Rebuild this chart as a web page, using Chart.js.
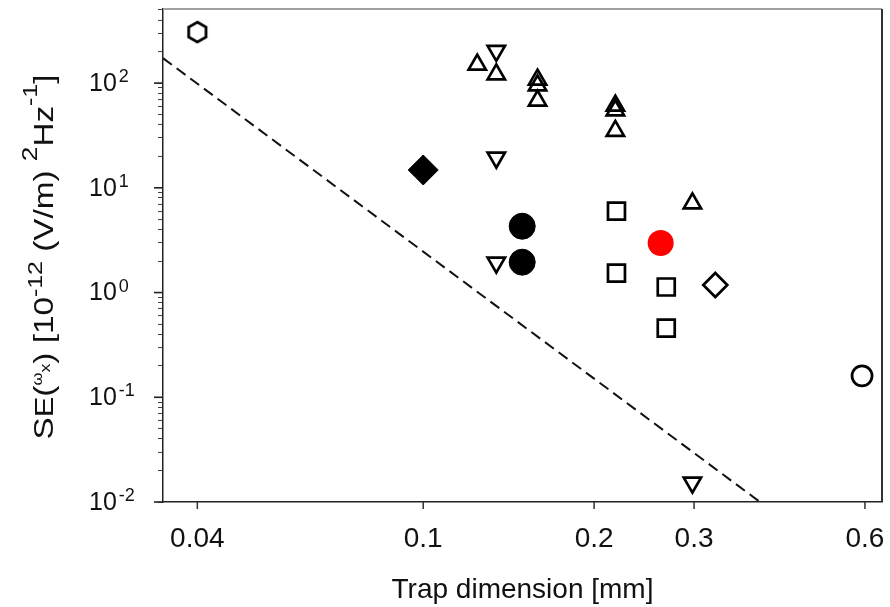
<!DOCTYPE html>
<html>
<head>
<meta charset="utf-8">
<script src="https://cdn.jsdelivr.net/npm/chart.js@4.4.1/dist/chart.umd.min.js"></script>
<style>
  html, body { margin: 0; padding: 0; background: #fff; overflow: hidden; }
  #wrap { width: 890px; height: 607px; position: relative; }
  canvas { display: block; }
</style>
</head>
<body>
<div id="wrap"><canvas id="c"></canvas></div>
<script>
// values (trap dimension in mm, S_E in 1e-12 (V/m)^2/Hz)
const hexX = [0.04];
const hexY = [307];
const upTriX = [0.1245, 0.1345, 0.159, 0.159, 0.159, 0.218, 0.218, 0.218, 0.298];
const upTriY = [150, 121, 108, 95, 68, 61, 55, 35, 7.1];
const downTriX = [0.1345, 0.1345, 0.1345, 0.298];
const downTriY = [203, 19.4, 1.93, 0.0153];
const dotX = [0.1494, 0.1494];
const dotY = [4.3, 1.95];
const redX = [0.262];
const redY = [2.97];
const squareX = [0.219, 0.219, 0.268, 0.268];
const squareY = [6.0, 1.53, 1.13, 0.458];
const openDiamondX = [0.327];
const openDiamondY = [1.18];
const solidDiamondX = [0.1];
const solidDiamondY = [14.8];
const ringX = [0.593];
const ringY = [0.16];
// dashed limit line, end points where it meets the frame
const limitX = [0.0348, 0.392];
const limitY = [173, 0.01];

const xTicks = [0.04, 0.1, 0.2, 0.3, 0.6];
const yExps = [-2, -1, 0, 1, 2];
const yMin = 0.01, yMax = 510;
const xMin = 0.0348, xMax = 0.643;

const FONT = '"Liberation Sans", Arial, sans-serif';

function pts(xs, ys) { return xs.map((x, i) => ({ x: x, y: ys[i] })); }

// hexagon marker (no built-in style for it)
const hex = document.createElement('canvas');
hex.width = 28; hex.height = 28;
(function () {
  const g = hex.getContext('2d');
  g.lineWidth = 2.8;
  g.strokeStyle = '#000';
  g.beginPath();
  for (let k = 0; k < 6; k++) {
    const a = Math.PI / 3 * k;
    const px = 14 + 10 * Math.sin(a), py = 14 - 10 * Math.cos(a);
    if (k === 0) g.moveTo(px, py); else g.lineTo(px, py);
  }
  g.closePath();
  g.stroke();
})();

const openStyle = { backgroundColor: 'rgba(0,0,0,0)', borderColor: '#000', borderWidth: 2.7 };

const frame = {
  id: 'frame',
  afterDraw(chart) {
    const { ctx, chartArea: a } = chart;
    const xs = chart.scales.x, ys = chart.scales.y;
    ctx.save();
    // top and right border
    ctx.strokeStyle = '#a0a0a0';
    ctx.lineWidth = 2;
    ctx.beginPath(); ctx.moveTo(a.left, a.top); ctx.lineTo(a.right, a.top); ctx.stroke();
    ctx.strokeStyle = '#333';
    ctx.beginPath(); ctx.moveTo(a.right, a.top); ctx.lineTo(a.right, a.bottom); ctx.stroke();

    // short x tick marks (the axis' own tick lines are kept invisible to push labels down)
    ctx.strokeStyle = '#333';
    ctx.lineWidth = 1.5;
    xTicks.forEach(v => {
      const px = xs.getPixelForValue(v);
      ctx.beginPath(); ctx.moveTo(px, a.bottom); ctx.lineTo(px, a.bottom + 7); ctx.stroke();
    });

    // major y ticks and labels 10^k
    ctx.fillStyle = '#111';
    ctx.strokeStyle = '#222';
    ctx.lineWidth = 1.6;
    ctx.textBaseline = 'middle';
    yExps.forEach(e => {
      const py = ys.getPixelForValue(Math.pow(10, e));
      ctx.beginPath(); ctx.moveTo(a.left - 9, py); ctx.lineTo(a.left, py); ctx.stroke();
      ctx.font = '25px ' + FONT;
      ctx.textAlign = 'left';
      ctx.fillText('10', 89, py + 1);
      const w = ctx.measureText('10').width;
      ctx.font = '18px ' + FONT;
      ctx.fillText(e < 0 ? '-' + (-e) : String(e), 89 + w + 2, py - 6);
    });

    // y axis title with sub/superscripts, stretched to the length it has in the figure
    const segs = [
      ['S', 28, 0], ['E', 26, 0], ['(', 28, 0], ['\u03c9', 14, -11], ['x', 15, -3], [')', 28, 0],
      [' [10', 28, 0], ['-12', 21, -11], [' (V/m) ', 28, 0], ['2', 22, -16], ['Hz', 28, 0], ['-1', 21, -16], [']', 28, 0]
    ];
    let total = 0;
    segs.forEach(s => { ctx.font = s[1] + 'px ' + FONT; total += ctx.measureText(s[0]).width; });
    const len = 365;
    ctx.translate(53, 257);
    ctx.rotate(-Math.PI / 2);
    ctx.scale(len / total, 1);
    let cx = -total / 2;
    ctx.textAlign = 'left';
    ctx.textBaseline = 'alphabetic';
    segs.forEach(s => {
      ctx.font = s[1] + 'px ' + FONT;
      ctx.fillText(s[0], cx, s[2]);
      cx += ctx.measureText(s[0]).width;
    });
    ctx.restore();
  }
};

new Chart(document.getElementById('c'), {
  type: 'scatter',
  data: {
    datasets: [
      { label: 'limit', type: 'line', data: pts(limitX, limitY), borderColor: '#111', borderWidth: 2,
        borderDash: [11, 6], pointRadius: 0, fill: false, order: 10 },
      { label: 'hexagon', data: pts(hexX, hexY), pointStyle: hex, pointRadius: 11 },
      { label: 'up', data: pts(upTriX, upTriY), pointStyle: 'triangle', pointRadius: 10, ...openStyle },
      { label: 'down', data: pts(downTriX, downTriY), pointStyle: 'triangle', rotation: 180, pointRadius: 10, ...openStyle },
      { label: 'squares', data: pts(squareX, squareY), pointStyle: 'rect', pointRadius: 12, ...openStyle },
      { label: 'open diamond', data: pts(openDiamondX, openDiamondY), pointStyle: 'rectRot', pointRadius: 12, ...openStyle },
      { label: 'ring', data: pts(ringX, ringY), pointStyle: 'circle', pointRadius: 10, ...openStyle },
      { label: 'solid diamond', data: pts(solidDiamondX, solidDiamondY), pointStyle: 'rectRot', pointRadius: 15,
        backgroundColor: '#000', borderColor: '#000', borderWidth: 1 },
      { label: 'dots', data: pts(dotX, dotY), pointStyle: 'circle', pointRadius: 13,
        backgroundColor: '#000', borderColor: '#000', borderWidth: 1 },
      { label: 'red', data: pts(redX, redY), pointStyle: 'circle', pointRadius: 13,
        backgroundColor: '#ff0000', borderColor: '#ff0000', borderWidth: 0 }
    ]
  },
  options: {
    responsive: true,
    maintainAspectRatio: false,
    animation: false,
    layout: { autoPadding: false, padding: { top: 9, right: 8, left: 0, bottom: 0 } },
    plugins: { legend: { display: false }, tooltip: { enabled: false } },
    scales: {
      x: {
        type: 'logarithmic', min: xMin, max: xMax,
        afterBuildTicks: s => { s.ticks = xTicks.map(v => ({ value: v })); },
        afterFit: s => { s.height = 105; s.paddingRight = 0; s.paddingLeft = 0; },
        grid: { drawOnChartArea: false, drawTicks: true, tickLength: 20, tickColor: 'rgba(0,0,0,0)' },
        border: { display: true, color: '#222', width: 1.5 },
        ticks: { autoSkip: false, maxRotation: 0, padding: 0, color: '#111',
          font: { family: FONT, size: 28 }, callback: v => String(v) },
        title: { display: true, text: 'Trap dimension [mm]', color: '#111',
          font: { family: FONT, size: 28 }, padding: { top: 0, bottom: 0 } }
      },
      y: {
        type: 'logarithmic', min: yMin, max: yMax,
        afterBuildTicks: s => {
          const t = [];
          yExps.concat([3]).forEach(e => {
            for (let m = 1; m <= 9; m++) {
              const v = m * Math.pow(10, e);
              if (v >= yMin && v <= yMax) t.push({ value: v });
            }
          });
          s.ticks = t;
        },
        afterFit: s => { s.width = 163; },
        grid: { drawOnChartArea: false, drawTicks: true, tickLength: 5, color: '#444', lineWidth: 1 },
        border: { display: true, color: '#222', width: 1.5 },
        ticks: { display: false }
      }
    }
  },
  plugins: [frame]
});
</script>
</body>
</html>
